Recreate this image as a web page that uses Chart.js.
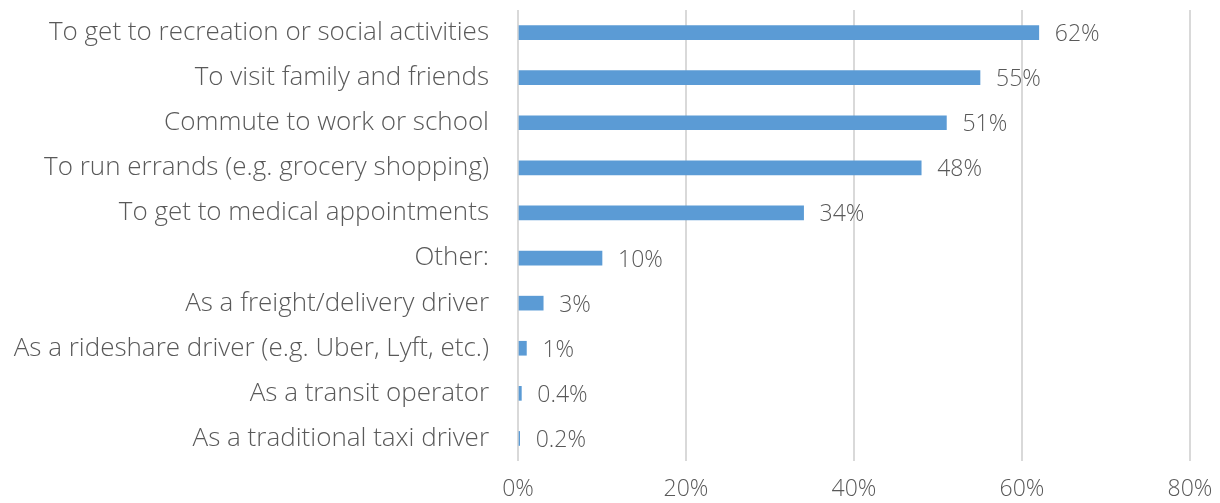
<!DOCTYPE html>
<html>
<head>
<meta charset="utf-8">
<script src="https://cdn.jsdelivr.net/npm/chart.js@4.4.1/dist/chart.umd.min.js"></script>
<style>
  html, body { margin: 0; padding: 0; background: #ffffff; }
  #wrap { width: 1220px; height: 503px; position: relative; }
</style>
</head>
<body>
<div id="wrap"><canvas id="c"></canvas></div>
<script>
const categories = [
  "To get to recreation or social activities",
  "To visit family and friends",
  "Commute to work or school",
  "To run errands (e.g. grocery shopping)",
  "To get to medical appointments",
  "Other:",
  "As a freight/delivery driver",
  "As a rideshare driver (e.g. Uber, Lyft, etc.)",
  "As a transit operator",
  "As a traditional taxi driver"
];
const shares = [62, 55, 51, 48, 34, 10, 3, 1, 0.4, 0.2];
const xTicks = [0, 20, 40, 60, 80];

const FONT = "'Open Sans', sans-serif";
const TEXT = "#595959";

function fmtPct(v) {
  return (v < 1 ? v.toFixed(1) : Math.round(v)) + "%";
}

// percentage written just past the end of each bar
const valueLabels = {
  id: "valueLabels",
  afterDatasetsDraw(chart) {
    const ctx = chart.ctx;
    const meta = chart.getDatasetMeta(0);
    ctx.save();
    ctx.font = "300 23px " + FONT;
    ctx.fillStyle = TEXT;
    ctx.textAlign = "left";
    ctx.textBaseline = "middle";
    meta.data.forEach((bar, i) => {
      ctx.fillText(fmtPct(shares[i]), bar.x + 16, bar.y + 2);
    });
    ctx.restore();
  }
};

new Chart(document.getElementById("c"), {
  type: "bar",
  data: {
    labels: categories,
    datasets: [{
      data: shares,
      backgroundColor: "#5b9bd5",
      borderWidth: 0,
      barThickness: 14
    }]
  },
  options: {
    indexAxis: "y",
    responsive: true,
    maintainAspectRatio: false,
    animation: false,
    layout: { padding: { top: 10, right: 30, bottom: 0, left: 0 } },
    plugins: {
      legend: { display: false },
      tooltip: { enabled: false }
    },
    scales: {
      x: {
        min: 0,
        max: 80,
        afterBuildTicks(axis) { axis.ticks = xTicks.map(v => ({ value: v })); },
        afterFit(axis) {
          axis.height = 42;
          axis.paddingLeft = 0;
          axis.paddingRight = 0;
        },
        grid: { color: "#d9d9d9", lineWidth: 2, drawTicks: false },
        border: { display: false },
        ticks: {
          padding: 15,
          color: TEXT,
          font: { family: FONT, size: 23, weight: "300" },
          callback: v => v + "%"
        }
      },
      y: {
        afterFit(axis) {
          axis.width = 518;
          axis.paddingTop = 0;
          axis.paddingBottom = 0;
        },
        grid: { display: false, drawTicks: false },
        border: { display: false },
        ticks: {
          padding: 29,
          color: TEXT,
          font: { family: FONT, size: 26, weight: "300", lineHeight: 1.05 }
        }
      }
    }
  },
  plugins: [valueLabels]
});
</script>
</body>
</html>
